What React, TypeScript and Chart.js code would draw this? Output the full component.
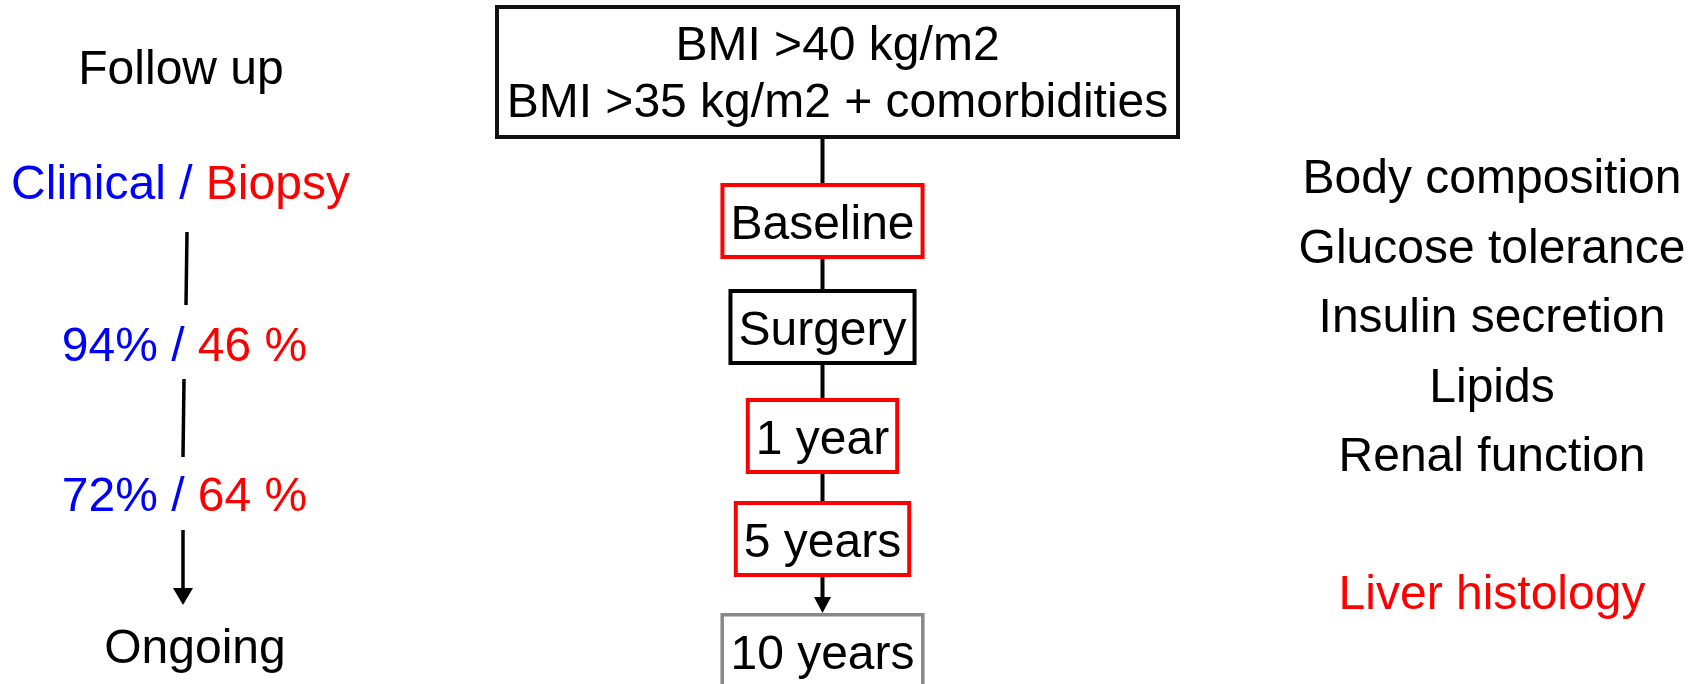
import React, { useEffect, useRef } from "react";
import { Chart, registerables } from "chart.js";

Chart.register(...registerables);

// ---------- data (labels / categories) ----------
const criteriaLines = ["BMI >40 kg/m2", "BMI >35 kg/m2 + comorbidities"];
const timelineLabels = ["Baseline", "Surgery", "1 year", "5 years", "10 years"];
const timelineKind = ["biopsy", "clinical", "biopsy", "biopsy", "planned"];
const followUpTitle = "Follow up";
const rateHeader = ["Clinical", "Biopsy"];
const clinicalRates = ["94%", "72%"];
const biopsyRates = ["46 %", "64 %"];
const followUpEnd = "Ongoing";
const assessments = ["Body composition", "Glucose tolerance", "Insulin secretion", "Lipids", "Renal function"];
const histologyLabel = "Liver histology";

// ---------- layout (data space = 1700 x 684 units) ----------
const W = 1700;
const H = 684;
const FONT_FAMILY = '"Liberation Sans", Arial, Helvetica, sans-serif';
const FS = 48;
const FS_RIGHT = 48;
const BLUE = "#0000ff";
const RED = "#ff0000";
const kindColor: Record<string, string> = { biopsy: "#ff0000", clinical: "#000000", planned: "#888888" };

const topBox = { x0: 495, x1: 1180, y0: 5, y1: 139 };
const topBaselines = [60, 117];
const centerX = 822.5;
const timelineTop = [183, 289, 398, 501, 613];
const boxH = 76;
const boxPad = 10;
const LW = 4;

const leftX = 183;
const leftTitleY = 84;
const leftHeaderY = 199;
const leftRateY = [361, 511];
const leftEndY = 663;
const leftEndX = 195;
const leftSegs = [
  [187, 232, 186, 305],
  [184, 379, 183, 457],
];
const leftArrow = [183, 530, 183, 605];

const rightX = 1492;
const rightYs = [193, 263, 332, 402, 471];
const rightHistY = 609;

const diagramPlugin = {
  id: "diagram",
  afterDraw(chart: any) {
    const ctx: CanvasRenderingContext2D = chart.ctx;
    const xs = chart.scales.x;
    const ys = chart.scales.y;
    const px = (v: number) => xs.getPixelForValue(v);
    const py = (v: number) => ys.getPixelForValue(v);

    ctx.save();
    ctx.fillStyle = "#ffffff";
    ctx.fillRect(0, 0, chart.width, chart.height);

    const setFont = (s: number) => {
      ctx.font = `${s}px ${FONT_FAMILY}`;
    };
    const text = (t: string, x: number, y: number, color = "#000", s = FS) => {
      setFont(s);
      ctx.fillStyle = color;
      ctx.textAlign = "center";
      ctx.textBaseline = "alphabetic";
      ctx.fillText(t, px(x), py(y));
    };
    const mixed = (parts: [string, string][], cx: number, y: number, s = FS) => {
      setFont(s);
      ctx.textAlign = "left";
      ctx.textBaseline = "alphabetic";
      const widths = parts.map((p) => ctx.measureText(p[0]).width);
      const total = widths.reduce((a, b) => a + b, 0);
      let x = px(cx) - total / 2;
      parts.forEach((p, i) => {
        ctx.fillStyle = p[1];
        ctx.fillText(p[0], x, py(y));
        x += widths[i];
      });
    };
    const rect = (x0: number, y0: number, x1: number, y1: number, color: string, lw = LW) => {
      ctx.strokeStyle = color;
      ctx.lineWidth = lw;
      const a = px(x0), b = py(y0), c = px(x1), d = py(y1);
      ctx.strokeRect(a + lw / 2, b + lw / 2, c - a - lw, d - b - lw);
    };
    const line = (x0: number, y0: number, x1: number, y1: number, lw = LW) => {
      ctx.strokeStyle = "#000";
      ctx.lineWidth = lw;
      ctx.beginPath();
      ctx.moveTo(px(x0), py(y0));
      ctx.lineTo(px(x1), py(y1));
      ctx.stroke();
    };
    const arrow = (x0: number, y0: number, x1: number, y1: number, headLen: number, halfW: number, lw: number) => {
      line(x0, y0, x1, y1 - headLen + 1, lw);
      ctx.fillStyle = "#000";
      ctx.beginPath();
      ctx.moveTo(px(x1), py(y1));
      ctx.lineTo(px(x1) - halfW, py(y1) - headLen);
      ctx.lineTo(px(x1) + halfW, py(y1) - headLen);
      ctx.closePath();
      ctx.fill();
    };

    // Top criteria box
    rect(topBox.x0, topBox.y0, topBox.x1, topBox.y1, "#111111");
    const topCx = (topBox.x0 + topBox.x1) / 2;
    criteriaLines.forEach((t, i) => text(t, topCx, topBaselines[i]));

    // Timeline boxes
    let prevBottom = topBox.y1;
    timelineLabels.forEach((label, i) => {
      setFont(FS);
      const w = ctx.measureText(label).width + 2 * boxPad;
      const top = timelineTop[i];
      const bottom = top + boxH;
      if (i === timelineLabels.length - 1) {
        arrow(centerX, prevBottom, centerX, top, 16, 8.5, LW);
      } else {
        line(centerX, prevBottom, centerX, top);
      }
      rect(centerX - w / 2, top, centerX + w / 2, bottom, kindColor[timelineKind[i]], i === timelineLabels.length - 1 ? 3.5 : LW);
      text(label, centerX, top + 56);
      prevBottom = bottom;
    });

    // Left column
    text(followUpTitle, 181, leftTitleY);
    mixed([[rateHeader[0] + " /", BLUE], [" " + rateHeader[1], RED]], 180.5, leftHeaderY);
    clinicalRates.forEach((c, i) => {
      mixed([[c + " /", BLUE], [" " + biopsyRates[i], RED]], 184.5, leftRateY[i]);
    });
    leftSegs.forEach((s) => line(s[0], s[1], s[2], s[3], 3.5));
    arrow(leftArrow[0], leftArrow[1], leftArrow[2], leftArrow[3], 17, 10, 3.5);
    text(followUpEnd, leftEndX, leftEndY);

    // Right column
    assessments.forEach((a, i) => text(a, rightX, rightYs[i], "#000", FS_RIGHT));
    text(histologyLabel, rightX, rightHistY, RED, FS_RIGHT);

    ctx.restore();
  },
};

export default function App() {
  const ref = useRef<HTMLCanvasElement | null>(null);
  useEffect(() => {
    document.body.style.margin = "0";
    if (!ref.current) return;
    const chart = new Chart(ref.current, {
      type: "scatter",
      data: {
        datasets: [
          {
            data: timelineLabels.map((_, i) => ({ x: centerX, y: timelineTop[i] + boxH / 2 })),
            pointRadius: 0,
            showLine: false,
          },
        ],
      },
      options: {
        animation: false,
        responsive: false,
        maintainAspectRatio: false,
        layout: { padding: 0 },
        events: [],
        plugins: { legend: { display: false }, tooltip: { enabled: false }, title: { display: false } },
        scales: {
          x: { type: "linear", min: 0, max: W, display: false },
          y: { type: "linear", min: 0, max: H, reverse: true, display: false },
        },
      },
      plugins: [diagramPlugin],
    });
    return () => chart.destroy();
  }, []);
  return (
    <div style={{ width: W, height: H, background: "#fff" }}>
      <canvas ref={ref} width={W} height={H} style={{ display: "block" }} />
    </div>
  );
}
